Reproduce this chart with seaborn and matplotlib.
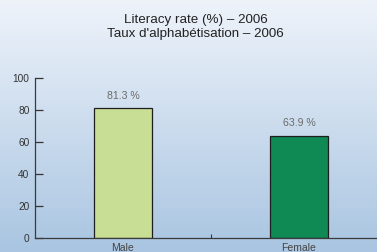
import numpy as np
import pandas as pd
import seaborn as sns
import matplotlib
matplotlib.use("Agg")
from matplotlib import pyplot as plt
from matplotlib.colors import LinearSegmentedColormap

title_en = "Literacy rate (%) \u2013 2006"
title_fr = "Taux d'alphab\u00e9tisation \u2013 2006"
sexes = ["Male", "Female"]
rates = [81.3, 63.9]
bar_colors = ["#c8de94", "#0f8a55"]
yticks = [0, 20, 40, 60, 80, 100]

sns.set_style("white")
plt.rcParams["font.family"] = ["Liberation Sans", "DejaVu Sans"]

fig = plt.figure(figsize=(3.77, 2.52), dpi=100)

# gradient background
bg = fig.add_axes([0, 0, 1, 1], zorder=-10)
cmap = LinearSegmentedColormap.from_list("bg", ["#eef3fa", "#a9c5e1"])
grad = np.linspace(0, 1, 256).reshape(-1, 1)
bg.imshow(grad, aspect="auto", cmap=cmap, extent=[0, 1, 0, 1], origin="upper")
bg.axis("off")

ax = fig.add_axes([35 / 377, 14 / 252, 352 / 377, 159.6 / 252])
ax.patch.set_alpha(0)

df = pd.DataFrame({"sex": sexes, "rate": rates})
sns.barplot(data=df, x="sex", y="rate", hue="sex", palette=bar_colors, saturation=1,
            width=0.324, edgecolor="#1e1e1e", linewidth=0.9, legend=False, ax=ax)

for i, v in enumerate(rates):
    ax.annotate(f"{v} %", (i, v), xytext=(0, 5.5), textcoords="offset points",
                ha="center", va="bottom", fontsize=7.6, color="#6b6b6b")

ax.set_xlim(-0.5, 1.5)
ax.set_ylim(0, 100)
ax.set_yticks(yticks)
ax.set_xlabel("")
ax.set_ylabel("")
ax.tick_params(axis="y", left=True, direction="in", length=5.8, width=0.9, color="#333333",
               labelsize=7.3, labelcolor="#333333", pad=4)
ax.tick_params(axis="x", bottom=True, length=0, labelsize=7.5, labelcolor="#444444", pad=3.5)
ax.set_xticks([0.5], minor=True)
ax.tick_params(axis="x", which="minor", bottom=True, direction="in", length=3, width=0.8,
               color="#333333")

for s in ["top", "right"]:
    ax.spines[s].set_visible(False)
for s in ["left", "bottom"]:
    ax.spines[s].set_color("#3a3a3a")
    ax.spines[s].set_linewidth(0.9)

fig.text(195.5 / 377, 1 - 23.5 / 252, title_en, ha="center", va="baseline",
         fontsize=9.6, color="#222222")
fig.text(195.5 / 377, 1 - 37.5 / 252, title_fr, ha="center", va="baseline",
         fontsize=9.6, color="#222222")

fig.savefig("out.png", dpi=100)
